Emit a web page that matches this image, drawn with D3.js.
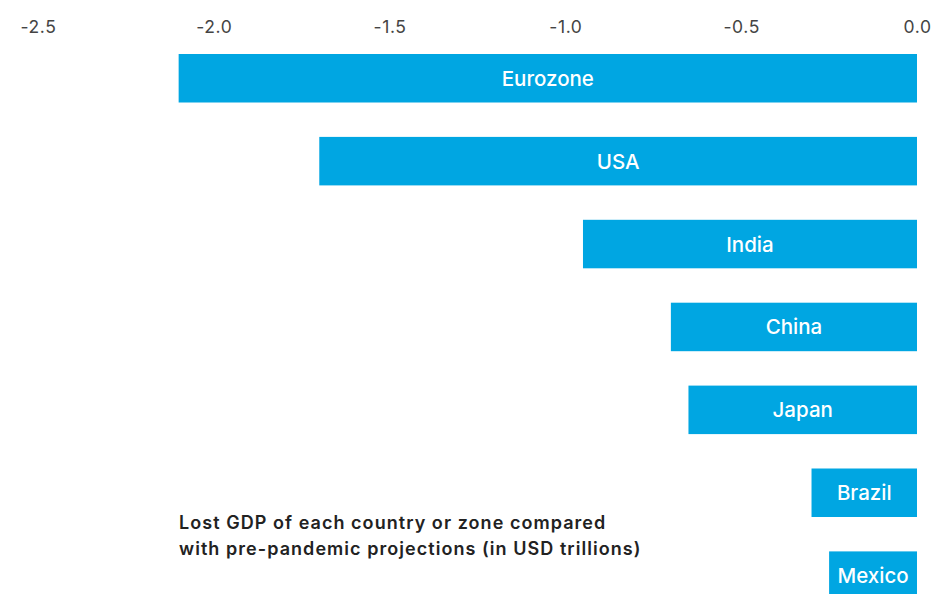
<!DOCTYPE html>
<html><head><meta charset="utf-8">
<script src="https://cdn.jsdelivr.net/npm/d3@7"></script>
<style>
html,body{margin:0;padding:0;background:#fff;}
svg{display:block;}
</style></head>
<body><svg id="chart" width="934" height="594"></svg>
<script>
const countries = ["Eurozone","USA","India","China","Japan","Brazil","Mexico"];
const lostGDP = [-2.1,-1.7,-0.95,-0.7,-0.65,-0.3,-0.25];
const tickValues = [-2.5,-2.0,-1.5,-1.0,-0.5,0.0];
const noteLines = ["Lost GDP of each country or zone compared","with pre-pandemic projections (in USD trillions)"];

const svg = d3.select("#chart");
const x = d3.scaleLinear().domain([-2.5,0]).range([38,917]);
const step = 82.9, bh = 48.5;
const y = d3.scaleBand().domain(countries)
  .range([54, 54 + step*(countries.length-1) + bh])
  .paddingInner(1 - bh/step).paddingOuter(0);

const FONT = "Inter, 'Liberation Sans', sans-serif";
const fmt = d => d3.format(".1f")(d).replace("\u2212","-");
const axis = d3.axisTop(x).tickValues(tickValues).tickFormat(fmt).tickSize(0).tickPadding(0);
const ag = svg.append("g").attr("transform","translate(0,33)").call(axis);
ag.select(".domain").remove();
ag.selectAll("text").attr("font-family",FONT).attr("font-size","17.5px").attr("letter-spacing","0.6px").attr("fill","#444").attr("dy",0);

const data = countries.map((c,i)=>({c, v: lostGDP[i]}));
svg.append("g").selectAll("rect").data(data).join("rect")
  .attr("x", d=>x(d.v)).attr("width", d=>x(0)-x(d.v))
  .attr("y", d=>y(d.c)).attr("height", y.bandwidth())
  .attr("fill","#00A6E2");

svg.append("g").selectAll("text").data(data).join("text")
  .attr("x", d=>(x(d.v)+x(0))/2).attr("y", d=>y(d.c)+y.bandwidth()/2+7.5)
  .attr("text-anchor","middle")
  .attr("font-family",FONT).attr("font-size","20.5px").attr("font-weight","500")
  .attr("fill","#fff").text(d=>d.c);

svg.append("g").selectAll("text").data(noteLines).join("text")
  .attr("x",179).attr("y",(d,i)=>529+i*26)
  .attr("font-family",FONT).attr("font-size","18px").attr("font-weight","600").attr("letter-spacing","1.05px")
  .attr("fill","#222").text(d=>d);
</script></body></html>
